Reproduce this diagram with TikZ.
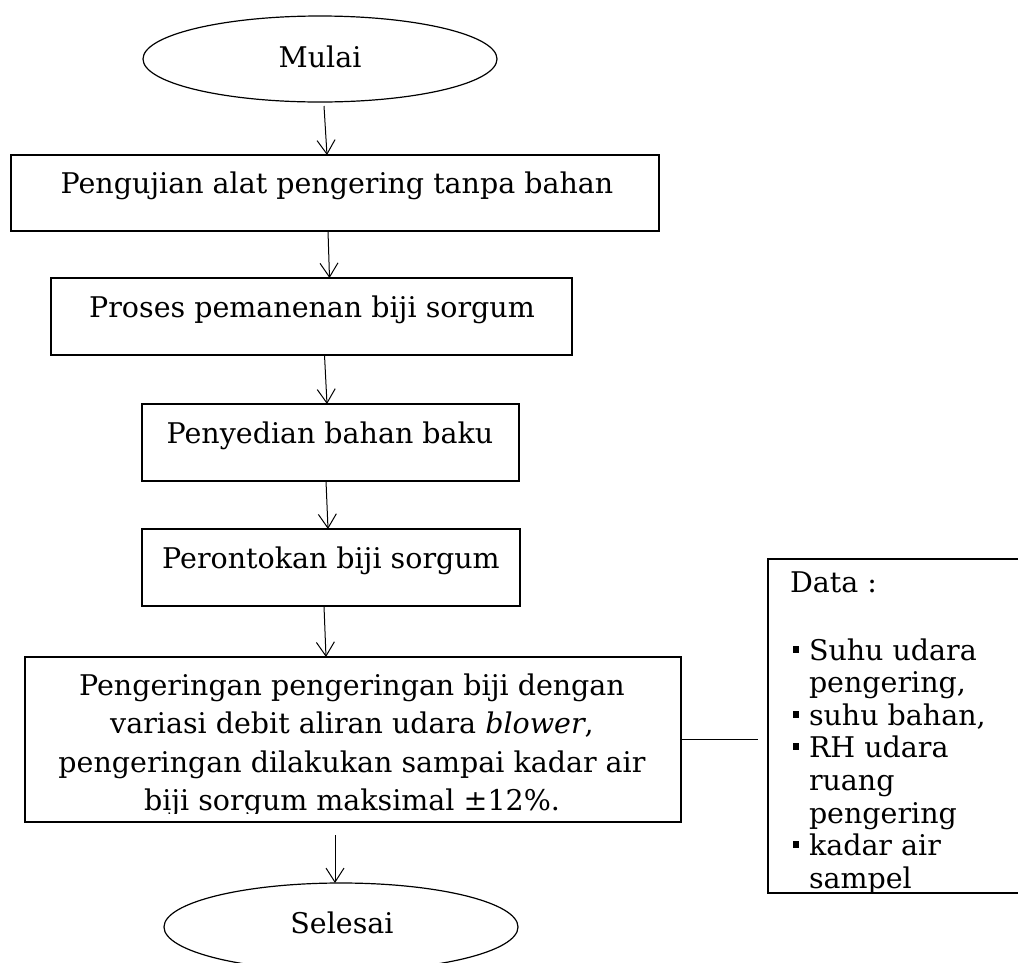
\documentclass[tikz,border=0pt]{standalone}
\usepackage{fontspec}
\setmainfont{DejaVu Serif}
\usetikzlibrary{arrows.meta,shapes.geometric}
\begin{document}
\begin{tikzpicture}[x=1pt,y=-1pt,
  every node/.style={inner sep=0pt,outer sep=0pt},
  term/.style={ellipse,draw,line width=1.2pt,minimum width=354pt},
  stepbox/.style={rectangle,draw,line width=1.3pt},
  databox/.style={rectangle,draw,line width=2pt},
  txt/.style={font=\fontsize{28.5}{38.5}\selectfont,anchor=base},
  dtxt/.style={font=\fontsize{28.5}{32.6}\selectfont,anchor=base west},
  bul/.style={fill,minimum width=6pt,minimum height=7pt},
  arr/.style={line width=1pt,-{Straight Barb[length=14pt,width=18pt,line width=1pt]}},
  link/.style={line width=1pt}]
\useasboundingbox (0,0) rectangle (1018,962);
\clip (0,0) rectangle (1018,962);

% terminals
\node[term,minimum height=86pt] (mulai) at (320,59) {};
\node[txt] (mulaitxt) at (320,67) {Mulai};
\node[term,minimum height=88pt] (selesai) at (341,927) {};
\node[txt] (selesaitxt) at (342,933) {Selesai};

% process boxes
\node[stepbox,minimum width=648pt,minimum height=76pt] (b1) at (335,193) {};
\node[txt] (t1) at (337,193) {Pengujian alat pengering tanpa bahan};
\node[stepbox,minimum width=521pt,minimum height=77pt] (b2) at (311.5,316.5) {};
\node[txt] (t2) at (312,317) {Proses pemanenan biji sorgum};
\node[stepbox,minimum width=377pt,minimum height=77pt] (b3) at (330.5,442.5) {};
\node[txt] (t3) at (330,443) {Penyedian bahan baku};
\node[stepbox,minimum width=378pt,minimum height=77pt] (b4) at (331,567.5) {};
\node[txt] (t4) at (331,568) {Perontokan biji sorgum};
\node[stepbox,minimum width=656pt,minimum height=165pt] (b5) at (353,739.5) {};
\begin{scope}
  \clip (25,657) rectangle (681,813);
  \node[txt] (t5a) at (352,695) {Pengeringan pengeringan biji dengan};
  \node[txt] (t5b) at (352,733.5) {variasi debit aliran udara \textit{blower},};
  \node[txt] (t5c) at (352,772) {pengeringan dilakukan sampai kadar air};
  \node[txt] (t5d) at (352,810.5) {biji sorgum maksimal ±12\%.};
\end{scope}

% data box
\node[databox,minimum width=272pt,minimum height=334pt] (data) at (904,726) {};
\node[dtxt] (dhead) at (790,592) {Data :};
\foreach \i/\y/\t in {1/660/{Suhu udara},2/692.6/{pengering,},3/725.2/{suhu bahan,},4/757.8/{RH udara},5/790.4/{ruang},6/823/{pengering},7/855.6/{kadar air},8/888.2/{sampel}}{
  \node[dtxt] (d\i) at (809,\y) {\t};
}
\foreach \i/\y in {1/660,3/725.2,4/757.8,7/855.6}{
  \node[bul] (bu\i) at (796,\y-11) {};
}

% connectors
\draw[arr] ([xshift=4pt,yshift=-4pt]mulai.south) -- ([xshift=-8pt]b1.north);
\draw[arr] ([xshift=-7pt]b1.south) -- ([xshift=18pt]b2.north);
\draw[arr] ([xshift=13pt]b2.south) -- ([xshift=-3.5pt]b3.north);
\draw[arr] ([xshift=-4.5pt]b3.south) -- ([xshift=-3pt]b4.north);
\draw[arr] ([xshift=-7pt]b4.south) -- ([xshift=-27pt]b5.north);
\draw[arr] ([xshift=-18pt,yshift=-13pt]b5.south) -- ([xshift=-6pt]selesai.north);
\coordinate (gap) at (758,739.5);
\draw[link] (b5.east) -- (gap);
\end{tikzpicture}
\end{document}
